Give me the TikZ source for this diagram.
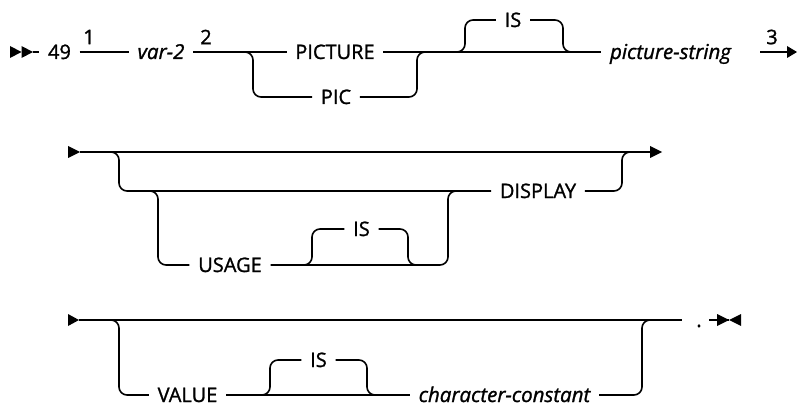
\documentclass[tikz,border=0pt]{standalone}
\usepackage{fontspec}
\setmainfont{Open Sans}[FakeBold=1.2]
\begin{document}
\begin{tikzpicture}[x=1pt,y=-1pt, line width=1.6pt,
  rail/.style={draw, rounded corners=8pt},
  kw/.style={font=\fontsize{20}{22}\selectfont, inner xsep=8pt, inner ysep=0pt, text height=14pt, text depth=0pt},
  var/.style={font=\fontsize{20.5}{22}\selectfont\itshape},
  note/.style={font=\fontsize{20}{22}\selectfont, inner sep=0pt},
  tip/.style={fill=black, draw=none}]
\useasboundingbox (0,0) rectangle (797,406);
% ---------- row 1 ----------
\fill[tip] (10,46) -- (21.5,52) -- (10,58) -- cycle;
\fill[tip] (21.5,46) -- (33,52) -- (21.5,58) -- cycle;
\coordinate (s1) at (33,52);
\node[kw] (n49) at (59.5,52) {49};
\node[note] (sup1) at (89,37) {1};
\node[kw,var] (v2) at (161,52) {var-2};
\node[note] (sup2) at (206,37) {2};
\node[kw] (pict) at (335,52) {PICTURE};
\node[kw] (pic) at (336,97) {PIC};
\node[kw] (is1) at (513,20) {IS};
\node[kw,var] (ps) at (670.5,52) {picture-string};
\node[note] (sup3) at (772,37) {3};
\coordinate (e1) at (760,52);
\coordinate (t1) at (787,52);
\draw (s1) -- (n49.west);
\draw (n49.east) -- (v2.west);
\draw (v2.east) -- (pict.west);
\draw (pict.east) -- (ps.west);
\draw[rail] (245,52) -- (253,52) -- (253,97) -- (pic.west);
\draw[rail] (pic.east) -- (417,97) -- (417,52) -- (425,52);
\draw[rail] (457,52) -- (465,52) -- (465,20) -- (is1.west);
\draw[rail] (is1.east) -- (563,20) -- (563,52) -- (571,52);
\draw (e1) -- (t1);
\fill[tip] (787,46) -- (797,52) -- (787,58) -- cycle;
% ---------- row 2 ----------
\fill[tip] (68,146) -- (80,152) -- (68,158) -- cycle;
\coordinate (s2) at (80,152);
\coordinate (t2) at (650,152);
\draw (s2) -- (t2);
\fill[tip] (650,146) -- (662,152) -- (650,158) -- cycle;
\node[kw] (disp) at (538,191) {DISPLAY};
\node[kw] (usage) at (230,265) {USAGE};
\node[kw] (is2) at (361.5,229) {IS};
\draw[rail] (110,152) -- (119,152) -- (119,191) -- (disp.west);
\draw[rail] (disp.east) -- (622,191) -- (622,152) -- (630,152);
\draw[rail] (150,191) -- (158,191) -- (158,265) -- (usage.west);
\draw[rail] (usage.east) -- (448,265) -- (448,191) -- (456,191);
\draw[rail] (304,265) -- (312,265) -- (312,229) -- (is2.west);
\draw[rail] (is2.east) -- (408,229) -- (408,265) -- (416,265);
% ---------- row 3 ----------
\fill[tip] (68,314) -- (79,320) -- (68,326) -- cycle;
\coordinate (s3) at (79,320);
\coordinate (t3) at (682,320);
\draw (s3) -- (t3);
\node[kw] (val) at (187.5,395) {VALUE};
\node[kw] (is3) at (318.5,360) {IS};
\node[kw,var] (cc) at (504.5,395) {character-constant};
\node[kw] (dot) at (699,320) {.};
\draw (val.east) -- (cc.west);
\draw[rail] (110,320) -- (119,320) -- (119,395) -- (val.west);
\draw[rail] (262,395) -- (270,395) -- (270,360) -- (is3.west);
\draw[rail] (is3.east) -- (367,360) -- (367,395) -- (375,395);
\draw[rail] (cc.east) -- (642,395) -- (642,320) -- (650,320);
\coordinate (e3) at (709,320);
\coordinate (m3) at (729,320);
\draw (e3) -- (m3);
\fill[tip] (717,314) -- (729,320) -- (717,326) -- cycle;
\fill[tip] (741,314) -- (729,320) -- (741,326) -- cycle;
\end{tikzpicture}
\end{document}
